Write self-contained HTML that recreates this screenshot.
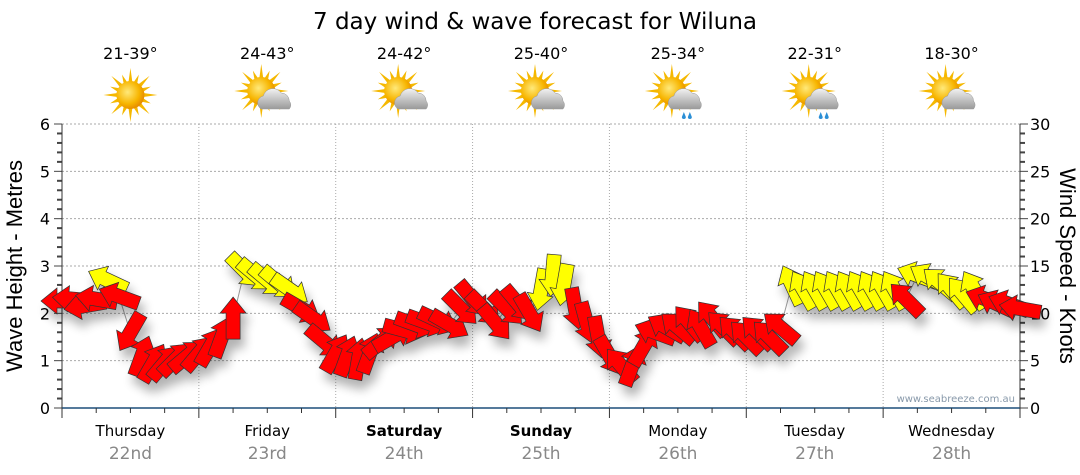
<!DOCTYPE html>
<html><head><meta charset="utf-8">
<style>
body{margin:0;background:#fff;}
svg{display:block;font-family:"DejaVu Sans","Liberation Sans",sans-serif;}
</style></head>
<body>
<svg id="chart" width="1080" height="475" viewBox="0 0 1080 475">
<defs>
<filter id="sh" x="-50%" y="-50%" width="200%" height="200%"><feGaussianBlur in="SourceAlpha" stdDeviation="5"/><feOffset dx="4" dy="9"/><feComponentTransfer><feFuncA type="linear" slope="0.3"/></feComponentTransfer><feMerge><feMergeNode/><feMergeNode in="SourceGraphic"/></feMerge></filter>
<radialGradient id="sun" cx="0.4" cy="0.4" r="0.7"><stop offset="0" stop-color="#ffe97a"/><stop offset="0.6" stop-color="#f7b500"/><stop offset="1" stop-color="#e07b00"/></radialGradient>
<linearGradient id="cloud" x1="0" y1="0" x2="0" y2="1"><stop offset="0" stop-color="#f2f2f2"/><stop offset="1" stop-color="#9a9a9a"/></linearGradient>
</defs>
<text x="535" y="29" font-size="23" text-anchor="middle" fill="#000">7 day wind &amp; wave forecast for Wiluna</text>
<g id="grid"></g>
<g id="axes"></g>
<g id="icons"></g>
<path id="line" fill="none" stroke="#999" stroke-width="1"/>
<g id="arrows" filter="url(#sh)"></g>
<text transform="translate(22,266) rotate(-90)" font-size="22" text-anchor="middle" fill="#000" font-family="Liberation Sans, sans-serif">Wave Height - Metres</text>
<text transform="translate(1060,266) rotate(90)" font-size="22" text-anchor="middle" fill="#000" font-family="Liberation Sans, sans-serif">Wind Speed - Knots</text>
<text x="1015" y="402" font-size="10" text-anchor="end" fill="#8899aa">www.seabreeze.com.au</text>
</svg>
<script>
const days=["Thursday","Friday","Saturday","Sunday","Monday","Tuesday","Wednesday"];
const dates=["22nd","23rd","24th","25th","26th","27th","28th"];
const boldDays=[false,false,true,true,false,false,false];
const temps=["21-39°","24-43°","24-42°","25-40°","25-34°","22-31°","18-30°"];
const iconTypes=["sun","cloud","cloud","cloud","rain","rain","cloud"];
const waveTicks=[0,1,2,3,4,5,6];
const knotTicks=[0,5,10,15,20,25,30];
// wind speed (knots), 2-hourly
const knots=[11.3,11.5,10.8,11.5,13.5,11.8,8.0,5.5,4.8,4.8,5.2,5.5,
5.8,6.5,7.5,9.5,14.5,14.0,13.5,13.2,12.5,10.5,9.5,7.0,
5.8,5.5,5.2,5.8,7.0,7.5,8.2,8.8,9.0,9.2,8.8,10.5,
11.5,10.5,9.0,10.5,11.0,10.0,12.5,14.0,13.0,10.5,9.0,7.5,
5.5,4.5,4.5,6.5,8.0,8.5,8.5,9.0,8.5,9.5,8.5,8.0,
7.5,8.0,7.5,8.5,13.0,12.5,12.5,12.5,12.5,12.5,12.5,12.5,
12.5,12.5,11.5,14.0,13.8,13.2,12.5,12.0,12.5,11.5,11.0,11.0,10.5];
// arrow heading on screen (deg; 0=right,90=down)
const heading=[180,185,170,190,205,200,120,290,300,310,315,320,
310,300,290,270,45,40,40,40,35,30,35,40,
300,290,280,290,320,330,15,20,20,25,30,45,
50,45,50,45,50,60,100,95,100,80,75,80,
60,230,290,300,200,210,220,230,240,230,225,225,
225,225,225,220,245,240,240,240,240,240,240,240,
240,240,225,200,210,220,230,230,240,200,205,200,190];
// 1 = yellow, 0 = red
const colorFlag=[0,0,0,0,1,0,0,0,0,0,0,0,
0,0,0,0,1,1,1,1,1,0,0,0,
0,0,0,0,0,0,0,0,0,0,0,0,
0,0,0,0,0,0,1,1,1,0,0,0,
0,0,0,0,0,0,0,0,0,0,0,0,
0,0,0,0,1,1,1,1,1,1,1,1,
1,1,0,1,1,1,1,1,1,0,0,0,0];

const NS="http://www.w3.org/2000/svg";
const X0=62,X1=1020,Y0=408,Y1=124;
const dayW=(X1-X0)/7;
const xHour=h=>X0+h/24*dayW;
const yWave=m=>Y0-(m/6)*(Y0-Y1);
const yKnot=k=>Y0-(k/30)*(Y0-Y1);
function mk(tag,attrs,parent){const e=document.createElementNS(NS,tag);for(const k in attrs)e.setAttribute(k,attrs[k]);parent.appendChild(e);return e;}
const grid=document.getElementById('grid'),axes=document.getElementById('axes');
waveTicks.forEach((v,i)=>{
  if(v>0){const g=mk('line',{x1:X0,x2:X1,y1:yWave(v),y2:yWave(v),stroke:'#aaa','stroke-dasharray':'2,2'},grid);
  
  }
  const t=mk('text',{x:50,y:yWave(v)+6,'font-size':16,'text-anchor':'end',fill:'#000'},axes);t.textContent=v;
  
  
});
for(let m=0;m<=30;m++){const y=yWave(m*0.2);mk('line',{x1:m%5?X0-5:X0-8,x2:X0,y1:y,y2:y,stroke:'#444','stroke-width':m%5?2:1},axes);}
knotTicks.forEach(v=>{const t=mk('text',{x:1030,y:yKnot(v)+6,'font-size':16,fill:'#000'},axes);t.textContent=v;
  
  });
for(let k=0;k<=30;k++){const y=yKnot(k);mk('line',{x1:X1,x2:k%5?X1+5:X1+8,y1:y,y2:y,stroke:'#444','stroke-width':k%5?2:1},axes);}
mk('line',{x1:X0,x2:X0,y1:Y1,y2:Y0,stroke:'#333'},axes);
mk('line',{x1:X1,x2:X1,y1:Y1,y2:Y0,stroke:'#333'},axes);
mk('line',{x1:X0,x2:X1,y1:Y0,y2:Y0,stroke:'#1d4f7a','stroke-width':1.5},axes);
for(let q=0;q<=28;q++){const x=X0+q*dayW/4;mk('line',{x1:x,x2:x,y1:Y0,y2:q%4?Y0+5:Y0+10,stroke:'#333'},axes);}
days.forEach((d,i)=>{
  if(i>0){const g=mk('line',{x1:X0+i*dayW,x2:X0+i*dayW,y1:Y1,y2:Y0,stroke:'#aaa','stroke-dasharray':'1,2'},grid);
  
  }
  const cx=X0+(i+0.5)*dayW;
  const t=mk('text',{x:cx,y:436,'font-size':15,'text-anchor':'middle',fill:'#000','font-weight':boldDays[i]?'bold':'normal'},axes);t.textContent=d;
  
  
  const t2=mk('text',{x:cx,y:459,'font-size':17,'text-anchor':'middle',fill:'#888'},axes);t2.textContent=dates[i];
  
  
  const t3=mk('text',{x:cx,y:59,'font-size':16,'text-anchor':'middle',fill:'#000'},axes);t3.textContent=temps[i];
  
  
  const ic=document.getElementById('icons');
  const g=mk('g',{transform:`translate(${cx},95)`},ic);
  
  
  const sx=iconTypes[i]==='sun'?0:-6,sy=iconTypes[i]==='sun'?0:-4;
  for(let r=0;r<16;r++){const a=r*Math.PI/8,L=r%2?22:27;
    mk('polygon',{points:`${sx+Math.cos(a)*L},${sy+Math.sin(a)*L} ${sx+Math.cos(a+0.15)*13},${sy+Math.sin(a+0.15)*13} ${sx+Math.cos(a-0.15)*13},${sy+Math.sin(a-0.15)*13}`,fill:'#f5b800'},g);}
  mk('circle',{cx:sx,cy:sy,r:14,fill:'url(#sun)'},g);
  if(iconTypes[i]!=='sun'){
    mk('path',{d:'M-6,14 a7,7 0 0 1 2,-13 a10,10 0 0 1 18,-3 a8,8 0 0 1 8,8 a6,6 0 0 1 0,8 z',fill:'url(#cloud)',stroke:'#999','stroke-width':0.5},g);
    if(iconTypes[i]==='rain'){mk('path',{d:'M6,17 l-2,5 a2,2 0 0 0 4,0 z M12,17 l-2,5 a2,2 0 0 0 4,0 z',fill:'#2b8fd6'},g);}
  }
});
const arrowsG=document.getElementById('arrows');
let d='';
knots.forEach((k,i)=>{const x=xHour(i*2),y=yKnot(k);d+=(i?'L':'M')+x.toFixed(1)+','+y.toFixed(1);});
document.getElementById('line').setAttribute('d',d);
knots.forEach((k,i)=>{
  const x=xHour(i*2),y=yKnot(k);
  const a=mk('polygon',{points:'-21,-7 5,-7 5,-13 21,0 5,13 5,7 -21,7',
    transform:`translate(${x.toFixed(1)},${y.toFixed(1)}) rotate(${heading[i]})`,
    fill:colorFlag[i]?'#ffff00':'#ff0000',stroke:'#333','stroke-width':0.7},arrowsG);
  
  
});
</script>
</body></html>
